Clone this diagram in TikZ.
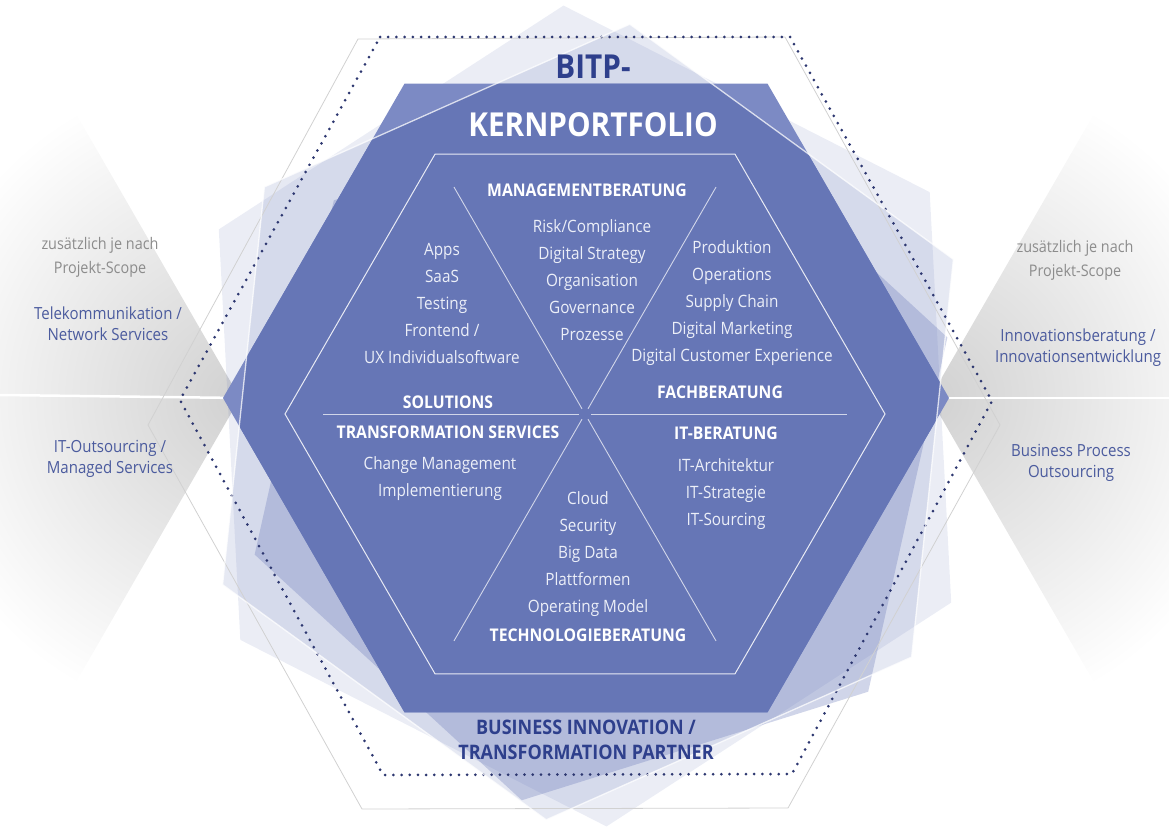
\documentclass[tikz,border=0pt]{standalone}
\usepackage{fontspec}
\setmainfont{Open Sans}[FakeStretch=0.9]
\usetikzlibrary{calc}

\definecolor{hexdark}{RGB}{102,118,182}
\definecolor{hexlight}{RGB}{124,138,196}
\definecolor{hexblue}{RGB}{100,117,181}
\definecolor{titleblue}{RGB}{46,63,140}
\definecolor{sideblue}{RGB}{75,91,158}
\definecolor{sidegrey}{RGB}{140,140,140}
\definecolor{dotblue}{RGB}{45,55,112}
\definecolor{itemwhite}{RGB}{236,239,248}

% hexagon path: centre, radius, angle of first corner
\newcommand{\hexa}[3]{($(#1)+(#3:#2)$) -- ($(#1)+(#3+60:#2)$) -- ($(#1)+(#3+120:#2)$) -- ($(#1)+(#3+180:#2)$) -- ($(#1)+(#3+240:#2)$) -- ($(#1)+(#3+300:#2)$) -- cycle}

\begin{document}
\begin{tikzpicture}
  [x=1pt, y=-1pt,
   item/.style={font=\fontsize{17}{27}\selectfont, text=itemwhite, align=center, inner sep=0pt},
   head/.style={font=\fontsize{17.5}{20}\selectfont\bfseries, text=white, inner sep=0pt},
   title/.style={font=\fontsize{33}{36}\selectfont\bfseries, inner sep=0pt},
   side/.style={font=\fontsize{16.7}{21}\selectfont, text=sideblue, align=center, inner sep=0pt},
   note/.style={font=\fontsize{16}{24}\selectfont, text=sidegrey, align=center, inner sep=0pt},
   pale/.style={fill=hexblue, fill opacity=#1}]
  \useasboundingbox (0,0) rectangle (1169,829);

  \coordinate (c) at (586,398);
  \coordinate (ci) at (585,414);
  \coordinate (ca) at (585,416);
  \coordinate (cw) at (588,422);
  \coordinate (cm) at (601,446);
  \coordinate (ltip) at (240,398);
  \coordinate (rtip) at (930,398);

  % grey wings left and right
  \begin{scope}
    \clip (ltip) -- (-30,-70) -- (-30,866) -- cycle;
    \shade[inner color=black!18, outer color=white] (ltip) circle (330);
  \end{scope}
  \begin{scope}
    \clip (rtip) -- (1200,-70) -- (1200,866) -- cycle;
    \shade[inner color=black!18, outer color=white] (rtip) circle (330);
  \end{scope}
  \draw[white, line width=2.5pt] (0,395) -- (ltip);
  \draw[white, line width=2.5pt] (rtip) -- (1169,398);

  % pale hexagons
  \fill[pale=0.13] \hexa{ca}{411}{-93};
  \fill[pale=0.16] \hexa{cw}{400}{-84};
  \fill[pale=0.30] \hexa{cm}{363}{-17.4};

  \draw[black!18, line width=0.8pt] (358,39) -- (785,37) -- (1000,425) -- (788,808) -- (362,809) -- (148,425) -- cycle;
  \draw[dotblue, line width=3pt, line cap=round, dash pattern=on 0pt off 8.2pt]
    (380,37) -- (790,37) -- (992,401) -- (792,774) -- (383,775) -- (180,400) -- cycle;

  % core hexagon
  \fill[hexlight] \hexa{c}{363}{0};
  \begin{scope}
    \clip \hexa{c}{363}{0};
    \fill[hexdark] \hexa{cw}{400}{-84};
  \end{scope}
  \draw[white, line width=1.3pt, opacity=0.75] \hexa{cw}{400}{-84};

  % inner hexagon and its six parts
  \draw[white, line width=1pt, opacity=0.85] \hexa{ci}{300}{0};
  \foreach \a in {0,60,...,300}
    \draw[white, line width=0.9pt, opacity=0.7] ($(ci)+(\a:6)$) -- ($(ci)+(\a:262)$);

  % texts
  \node[title, text=titleblue] (bitp) at (593,67) {BITP-};
  \node[title, text=white] (kern) at (593,125) {KERNPORTFOLIO};

  \node[head] (mgmt) at (587,190) {MANAGEMENTBERATUNG};
  \node[item] (mgmtlist) at (592,280) {Risk/Compliance\\Digital Strategy\\Organisation\\Governance\\Prozesse};
  \node[item] (sollist) at (442,303) {Apps\\SaaS\\Testing\\Frontend /\\UX Individualsoftware};
  \node[head] (sol) at (448,402) {SOLUTIONS};
  \node[item] (fachlist) at (732,303) {Produktion\\Operations\\Supply Chain\\Digital Marketing\\Digital Customer Experience};
  \node[head] (fach) at (720,392) {FACHBERATUNG};
  \node[head] (trans) at (448,432) {TRANSFORMATION SERVICES};
  \node[item] (translist) at (440,479) {Change Management\\Implementierung};
  \node[head] (it) at (726,433) {IT-BERATUNG};
  \node[item] (itlist) at (726,494) {IT-Architektur\\IT-Strategie\\IT-Sourcing};
  \node[item] (techlist) at (588,554) {Cloud\\Security\\Big Data\\Plattformen\\Operating Model};
  \node[head] (tech) at (588,635) {TECHNOLOGIEBERATUNG};

  \node[font=\fontsize{20}{25}\selectfont\bfseries, text=titleblue, align=center, inner sep=0pt]
    (partner) at (586,740) {BUSINESS INNOVATION /\\TRANSFORMATION PARTNER};

  \node[note] (lscope) at (100,257) {zusätzlich je nach\\Projekt-Scope};
  \node[side] (ltele) at (108,324) {Telekommunikation /\\Network Services};
  \node[side] (lout) at (110,459) {IT-Outsourcing /\\Managed Services};
  \node[note] (rscope) at (1075,260) {zusätzlich je nach\\Projekt-Scope};
  \node[side] (rinno) at (1078,348) {Innovationsberatung /\\Innovationsentwicklung};
  \node[side] (rbpo) at (1071,463) {Business Process\\Outsourcing};
\end{tikzpicture}
\end{document}
